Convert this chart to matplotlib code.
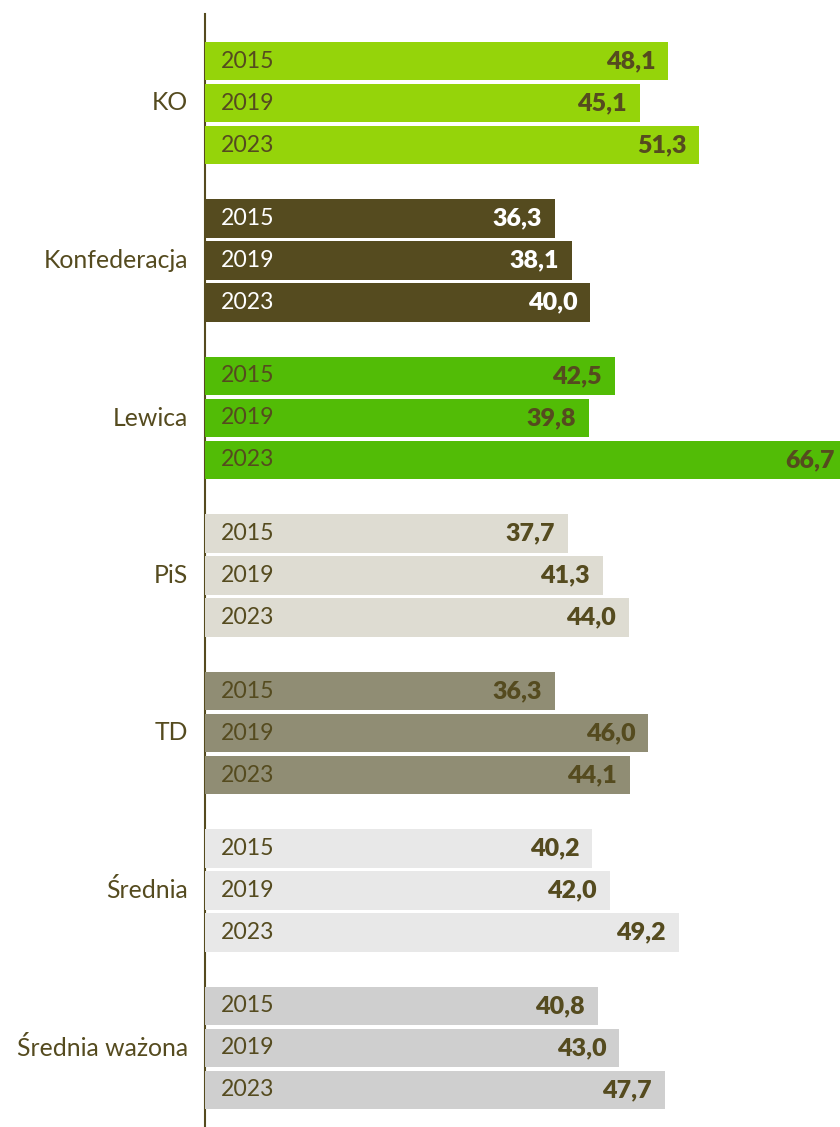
import matplotlib.pyplot as plt

plt.rcParams['font.family'] = ['Lato', 'DejaVu Sans']

groups = ["KO", "Konfederacja", "Lewica", "PiS", "TD", "Średnia", "Średnia ważona"]
years = ["2015", "2019", "2023"]
values = [
    [48.1, 45.1, 51.3],
    [36.3, 38.1, 40.0],
    [42.5, 39.8, 66.7],
    [37.7, 41.3, 44.0],
    [36.3, 46.0, 44.1],
    [40.2, 42.0, 49.2],
    [40.8, 43.0, 47.7],
]
colors = ["#95d40a", "#554b1f", "#52bc06", "#dedcd2", "#908d74", "#e8e8e8", "#cfcfcf"]
label_colors = ["#554b1f", "white", "#554b1f", "#554b1f", "#554b1f", "#554b1f", "#554b1f"]
text_col = "#554b1f"

fig = plt.figure(figsize=(8.4, 11.27), dpi=100)
ax = fig.add_axes([205 / 840, 0, 635 / 840, 1113 / 1127])

group_step = 3.75
for g, name in enumerate(groups):
    for j, yr in enumerate(years):
        y = g * group_step + j
        v = values[g][j]
        ax.barh(y, v, height=0.905, color=colors[g], zorder=2)
        ax.text(1.6, y, yr, va="center", ha="left", fontsize=16.6,
                color=label_colors[g], zorder=3)
        ax.text(v - 1.35, y, f"{v:.1f}".replace(".", ","), va="center", ha="right",
                fontsize=18, fontweight="heavy", color=label_colors[g], zorder=3,
                clip_on=True)
    ax.text(-1.75, g * group_step + 1, name, va="center", ha="right",
            fontsize=17.8, color=text_col)

ax.set_xlim(0, 65.9)
ax.set_ylim((1127 - 61) / 42, (14 - 61) / 42)
for s in ["top", "right", "bottom"]:
    ax.spines[s].set_visible(False)
ax.spines["left"].set_color(text_col)
ax.spines["left"].set_linewidth(1.5)
ax.spines["left"].set_zorder(1)
ax.set_xticks([])
ax.set_yticks([])

fig.savefig("out.png", dpi=100)
